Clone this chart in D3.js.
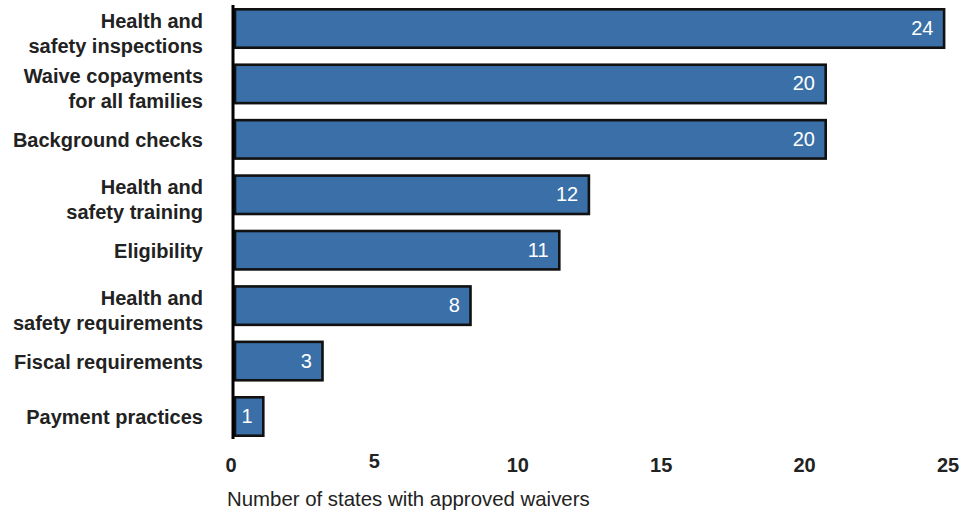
<!DOCTYPE html>
<html><head><meta charset="utf-8">
<script src="https://cdn.jsdelivr.net/npm/d3@7"></script>
<style>body{margin:0;background:#fff}svg{display:block}</style>
</head><body>
<svg id="c" width="979" height="511"></svg>
<script>
const categories = [
  ["Health and", "safety inspections"],
  ["Waive copayments", "for all families"],
  ["Background checks"],
  ["Health and", "safety training"],
  ["Eligibility"],
  ["Health and", "safety requirements"],
  ["Fiscal requirements"],
  ["Payment practices"]
];
const values = [24, 20, 20, 12, 11, 8, 3, 1];
const tickValues = [0, 5, 10, 15, 20, 25];
const axisTitle = "Number of states with approved waivers";

const svg = d3.select("#c");
const font = "'Liberation Sans', Arial, Helvetica, sans-serif";
const keys = categories.map(c => c.join(" "));

const x = d3.scaleLinear().domain([0, 25]).range([235, 975]);
const xLabel = d3.scaleLinear().domain([0, 25]).range([230.5, 947.5]);
const y = d3.scaleBand().domain(keys).range([8, 437]).paddingInner(0.26).paddingOuter(0);

const sw = 2.6;
svg.append("g").selectAll("rect").data(values).join("rect")
  .attr("x", x(0))
  .attr("y", (d, i) => y(keys[i]) + sw / 2)
  .attr("width", d => x(d) - x(0) - sw / 2)
  .attr("height", y.bandwidth() - sw)
  .attr("fill", "#3a6fa7")
  .attr("stroke", "#111")
  .attr("stroke-width", sw);

// value labels
svg.append("g").selectAll("text").data(values).join("text")
  .attr("x", d => x(d) - 12)
  .attr("y", (d, i) => y(keys[i]) + y.bandwidth() / 2 + 6.5)
  .attr("text-anchor", "end")
  .attr("fill", "#fff")
  .attr("font-family", font)
  .attr("font-size", 20)
  .text(d => d);

// vertical axis line
svg.append("line")
  .attr("x1", 233).attr("x2", 233)
  .attr("y1", 5).attr("y2", 439)
  .attr("stroke", "#000").attr("stroke-width", 3);

// category labels
const lab = svg.append("g").selectAll("text").data(categories).join("text")
  .attr("text-anchor", "end")
  .attr("font-family", font)
  .attr("font-weight", "bold")
  .attr("font-size", 20)
  .attr("fill", "#222")
  .attr("transform", (d, i) => `translate(203,${y(keys[i]) + y.bandwidth() / 2})`);
lab.each(function(d) {
  const t = d3.select(this);
  const n = d.length;
  d.forEach((line, j) => {
    t.append("tspan").attr("x", 0)
      .attr("y", n === 1 ? 8 : (j === 0 ? -1 : 24))
      .text(line);
  });
});

// x axis labels
const ax = svg.append("g").attr("transform", "translate(0,440)")
  .call(d3.axisBottom(xLabel).tickValues(tickValues).tickSize(0).tickPadding(0).tickFormat(d3.format("d")));
ax.select(".domain").remove();
ax.selectAll("text")
  .attr("font-family", font)
  .attr("font-weight", "bold")
  .attr("font-size", 20)
  .attr("fill", "#222")
  .attr("dy", d => d === 5 ? 27.5 : 31.5)
  .attr("y", 0);

svg.append("text")
  .attr("x", 227).attr("y", 506)
  .attr("font-family", font)
  .attr("font-size", 20.4)
  .attr("fill", "#222")
  .text(axisTitle);
</script>
</body></html>
